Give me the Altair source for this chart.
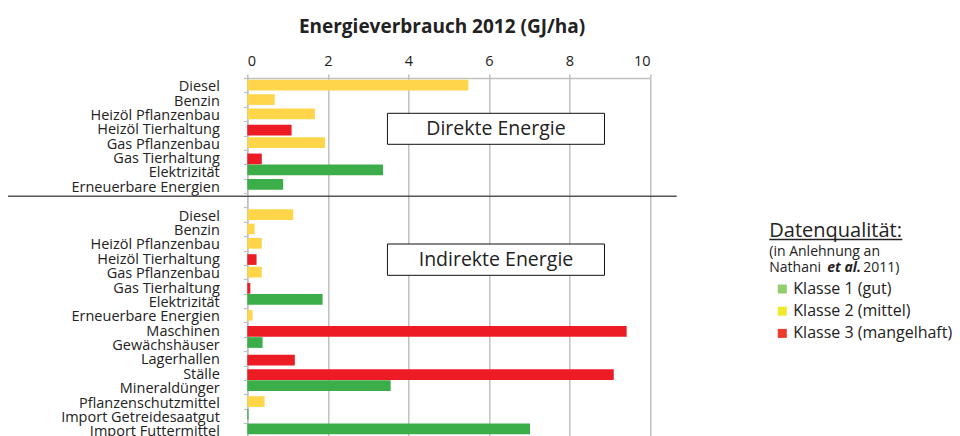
import altair as alt
import pandas as pd

FONT = "Open Sans"

# ---- data ----
direct_categories = ["Diesel", "Benzin", "Heizöl Pflanzenbau", "Heizöl Tierhaltung",
                     "Gas Pflanzenbau", "Gas Tierhaltung", "Elektrizität", "Erneuerbare Energien"]
direct_values = [5.49, 0.68, 1.68, 1.10, 1.93, 0.36, 3.37, 0.89]
direct_class = [2, 2, 2, 3, 2, 3, 1, 1]

indirect_categories = ["Diesel", "Benzin", "Heizöl Pflanzenbau", "Heizöl Tierhaltung",
                       "Gas Pflanzenbau", "Gas Tierhaltung", "Elektrizität", "Erneuerbare Energien",
                       "Maschinen", "Gewächshäuser", "Lagerhallen", "Ställe", "Mineraldünger",
                       "Pflanzenschutzmittel", "Import Getreidesaatgut", "Import Futtermittel"]
indirect_values = [1.14, 0.18, 0.36, 0.23, 0.36, 0.075, 1.87, 0.13,
                   9.42, 0.38, 1.18, 9.10, 3.56, 0.43, 0.03, 7.02]
indirect_class = [2, 2, 2, 3, 2, 3, 1, 2, 3, 1, 3, 3, 1, 2, 1, 1]

class_labels = ["Klasse 1 (gut)", "Klasse 2 (mittel)", "Klasse 3 (mangelhaft)"]
bar_colors = ["#3cae49", "#ffd54a", "#ed1c24"]
legend_colors = ["#92cd6e", "#eeea2e", "#ee3b2a"]
x_ticks = [0, 2, 4, 6, 8, 10]

GAP = "gap|"

# ---- tables ----
keys = ["d|" + c for c in direct_categories] + [GAP] + ["i|" + c for c in indirect_categories]
df = pd.DataFrame({
    "key": ["d|" + c for c in direct_categories] + ["i|" + c for c in indirect_categories],
    "value": direct_values + indirect_values,
    "cls": direct_class + indirect_class,
})
leg_df = pd.DataFrame({"key": [GAP] * 3, "value": [0, 0, 0], "Klasse": class_labels})

W = 402.7
H = 359.5

xscale = alt.Scale(domain=[0, 10], nice=False, zero=True)
yscale = alt.Scale(domain=keys, paddingInner=0, paddingOuter=0)

xaxis = alt.Axis(orient="top", values=x_ticks, title=None, grid=True, gridColor="#c0c0c0",
                 gridWidth=1.5, domainColor="#c0c0c0", domainWidth=1.5, tickColor="#c0c0c0",
                 tickWidth=1.5, tickSize=4, labelFont=FONT, labelFontSize=14.5, labelColor="#222",
                 labelPadding=6)
yaxis = alt.Axis(title=None, labelExpr="split(datum.value, '|')[1]", tickBand="extent",
                 domainColor="#c0c0c0", domainWidth=1.5, tickColor="#c0c0c0", tickWidth=1.2,
                 tickSize=4, labelPadding=24, labelFont=FONT, labelFontSize=14.5, labelColor="#222",
                 labelLimit=400, grid=False, labelOffset=1.5)

base = alt.Chart(df)

def bar_layer(cls, color, off):
    return base.transform_filter(alt.datum.cls == cls).mark_bar(
        color=color, size=10.7, yOffset=off
    ).encode(
        x=alt.X("value:Q", scale=xscale, axis=xaxis),
        y=alt.Y("key:N", scale=yscale, axis=yaxis, sort=None),
    )

bars1 = bar_layer(1, bar_colors[0], -1.5)
bars2 = bar_layer(2, bar_colors[1], 0)
bars3 = bar_layer(3, bar_colors[2], 1.8)

legend_layer = alt.Chart(leg_df).mark_bar(size=10.7).encode(
    x=alt.X("value:Q", scale=xscale, axis=xaxis),
    y=alt.Y("key:N", scale=yscale, axis=yaxis, sort=None),
    color=alt.Color("Klasse:N", scale=alt.Scale(domain=class_labels, range=legend_colors),
                    legend=alt.Legend(title=None, orient="none", legendX=527, legendY=203,
                                      symbolType="square", symbolSize=81, symbolStrokeWidth=0,
                                      labelFont=FONT, labelFontSize=16, labelColor="#222",
                                      rowPadding=6.2, padding=0, labelOffset=3, labelLimit=400)),
)

# separator between direct and indirect energy
sep = alt.Chart(pd.DataFrame({"key": [GAP]})).mark_rule(
    color="#555555", strokeWidth=1.5, yOffset=-4
).encode(
    y=alt.Y("key:N", scale=yscale, axis=yaxis, sort=None),
    x=alt.value(-240),
    x2=alt.value(429.4),
)

# annotation boxes
box_df = pd.DataFrame({
    "label": ["Direkte Energie", "Indirekte Energie"],
    "x0": [3.48, 3.48], "x1": [8.87, 8.87],
})

def box(i, top, bottom):
    d = box_df.iloc[[i]]
    rect = alt.Chart(d).mark_rect(fill="white", stroke="#111", strokeWidth=1).encode(
        x=alt.X("x0:Q", scale=xscale, axis=xaxis), x2="x1:Q",
        y=alt.value(top), y2=alt.value(bottom),
    )
    txt = alt.Chart(d).transform_calculate(xm="(datum.x0 + datum.x1) / 2").mark_text(
        font=FONT, fontSize=19.5, color="#222", baseline="middle", align="center"
    ).encode(
        x=alt.X("xm:Q", scale=xscale, axis=xaxis),
        y=alt.value((top + bottom) / 2 + 0.5),
        text="label:N",
    )
    return rect + txt

box1 = box(0, 35.3, 66.3)
box2 = box(1, 166.0, 197.3)

# legend heading texts
note = pd.DataFrame({"t": [0]})
head = alt.Chart(note).mark_text(
    text="Datenqualität:", font=FONT, fontSize=20, color="#222", align="left", baseline="alphabetic"
).encode(x=alt.value(522), y=alt.value(158.7))
head_ul = alt.Chart(note).mark_rule(color="#222", strokeWidth=1.3).encode(
    x=alt.value(522), x2=alt.value(655), y=alt.value(161.5))
sub1 = alt.Chart(note).mark_text(
    text="(in Anlehnung an", font=FONT, fontSize=14, color="#222", align="left", baseline="middle"
).encode(x=alt.value(522), y=alt.value(173.7))
sub2 = alt.Chart(note).mark_text(
    text="Nathani", font=FONT, fontSize=14, color="#222", align="left", baseline="middle"
).encode(x=alt.value(522), y=alt.value(190.3))
sub3 = alt.Chart(note).mark_text(
    text="et al.", font=FONT, fontSize=14, fontWeight="bold", fontStyle="italic",
    color="#222", align="left", baseline="middle"
).encode(x=alt.value(580), y=alt.value(190.3))
sub4 = alt.Chart(note).mark_text(
    text="2011)", font=FONT, fontSize=14, color="#222", align="left", baseline="middle"
).encode(x=alt.value(616), y=alt.value(190.3))

chart = alt.layer(
    bars1, bars2, bars3, legend_layer, sep, box1, box2,
    head, head_ul, sub1, sub2, sub3, sub4,
).properties(
    width=W, height=H,
    title=alt.TitleParams("Energieverbrauch 2012 (GJ/ha)", font=FONT, fontSize=19,
                          fontWeight="bold", color="#222", anchor="middle", dx=-6.6, offset=16),
    autosize=alt.AutoSizeParams(type="none"),
    padding={"left": 239.3, "top": 70, "right": 302, "bottom": 0},
).configure_view(stroke=None)

chart.save("out.html", embed_options={"renderer": "svg", "actions": False})
